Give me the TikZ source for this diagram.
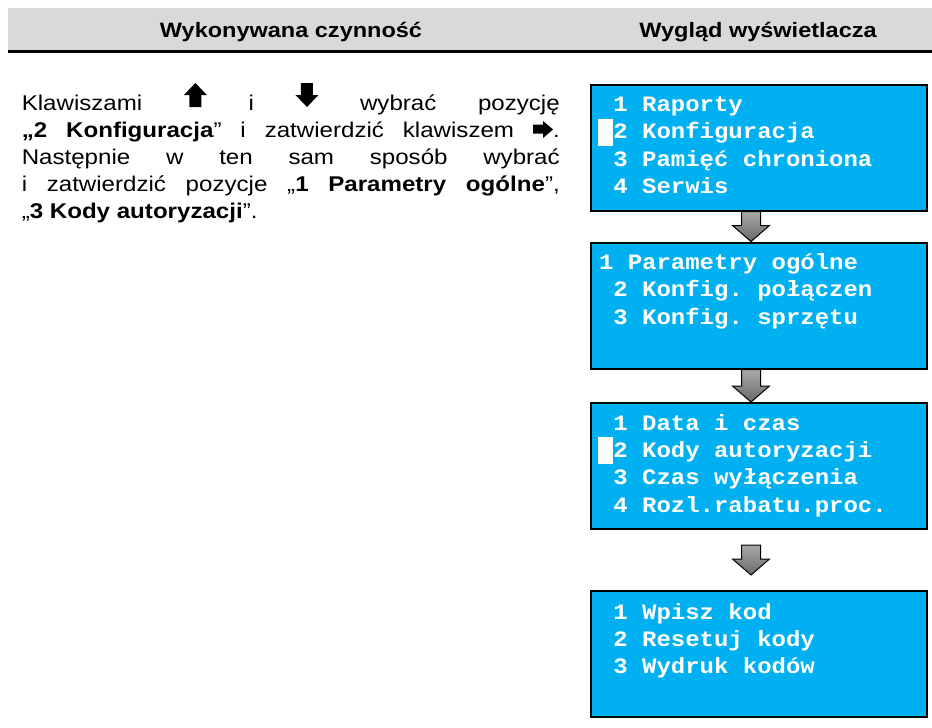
\documentclass[tikz,border=0pt]{standalone}
\usepackage{fontspec}
\setmainfont{Liberation Sans}[FakeStretch=1.13]
\newfontfamily\lcdfont{Liberation Mono}[FakeStretch=1.09]
\usetikzlibrary{calc}
\definecolor{lcdblue}{RGB}{0,176,240}
\definecolor{headgray}{RGB}{217,217,217}
\definecolor{arrtop}{RGB}{170,170,170}
\definecolor{arrbot}{RGB}{105,105,105}
\newcommand\keyup{\tikz[baseline=0pt,x=0.75pt,y=0.75pt]\fill (5.5,3) -- (17.5,3) -- (17.5,15) -- (23,15) -- (11.5,27) -- (0,15) -- (5.5,15) -- cycle;}
\newcommand\keydown{\tikz[baseline=0pt,x=0.75pt,y=0.75pt]\fill (5.5,27) -- (17.5,27) -- (17.5,15) -- (23,15) -- (11.5,3) -- (0,15) -- (5.5,15) -- cycle;}
\newcommand\keyright{\tikz[baseline=0pt,x=0.75pt,y=0.75pt]\fill (0,3.5) -- (10,3.5) -- (10,-1) -- (20,7.5) -- (10,16) -- (10,12.5) -- (0,12.5) -- cycle;}
\newcommand\lcdcursor{\makebox[0pt][l]{\hspace{-0.75pt}\rule[-5.25pt]{11.25pt}{20.25pt}}\hphantom{0}}
\newcommand\lcdsp{\hphantom{0}}
\newcommand\grayarrow[2]{\path[fatarrow] ($(#1)+(-17.5,0)$) -- ($(#1)+(1.5,0)$) -- ($(#2)+(1.5,-16)$) -- ($(#2)+(10.5,-16)$) -- ($(#2)+(-8,0)$) -- ($(#2)+(-26.5,-16)$) -- ($(#2)+(-17.5,-16)$) -- cycle;}
\tikzset{
  screen/.style={draw=black, line width=1.5pt, fill=lcdblue, minimum width=252.4pt, minimum height=94.5pt, inner sep=0pt},
  lcdtext/.style={anchor=base west, inner sep=0pt, text=white, font=\lcdfont\bfseries\fontsize{16.5pt}{20.5pt}\selectfont\frenchspacing},
  headtext/.style={anchor=base, inner sep=0pt, font=\bfseries\fontsize{15.6pt}{18pt}\selectfont},
  bodytext/.style={anchor=base west, inner sep=0pt, font=\fontsize{16pt}{20.25pt}\selectfont},
  fatarrow/.style={draw=black, line width=0.75pt, top color=arrtop, bottom color=arrbot},
}
\begin{document}
\begin{tikzpicture}[x=0.75pt,y=-0.75pt]
\useasboundingbox (0,0) rectangle (932,728);
% header band
\fill[headgray] (8,8) rectangle (932,50);
\draw[line width=2.25pt] (8,51.5) -- (932,51.5);
\node[headtext] (h1) at (291,37) {Wykonywana czynność};
\node[headtext] (h2) at (758,37) {Wygląd wyświetlacza};
% instruction paragraph
\node[bodytext] (para) at (21.5,110) {\parbox[t]{403.5pt}{\tolerance=10000\hbadness=10000\hyphenpenalty=10000
Klawiszami \keyup{} i \keydown{} wybrać pozycję\linebreak
{\bfseries „2 Konfiguracja}” i zatwierdzić klawiszem \keyright.\linebreak
Następnie w ten sam sposób wybrać\linebreak
i zatwierdzić pozycje „{\bfseries 1 Parametry ogólne}”,\linebreak
„{\bfseries 3 Kody autoryzacji}”.}};
% screens
\node[screen] (b1) at (759,147.5) {};
\node[screen] (b2) at (759,305.5) {};
\node[screen] (b3) at (759,466) {};
\node[screen] (b4) at (759,654) {};
\node[lcdtext] (t1) at ($(b1.north west)+(9,28)$) {\parbox[t]{300pt}{\lcdsp 1 Raporty\\\lcdcursor 2 Konfiguracja\\\lcdsp 3 Pamięć chroniona\\\lcdsp 4 Serwis}};
\node[lcdtext] (t2) at ($(b2.north west)+(9,28)$) {\parbox[t]{300pt}{1 Parametry ogólne\\\lcdsp 2 Konfig. połączen\\\lcdsp 3 Konfig. sprzętu}};
\node[lcdtext] (t3) at ($(b3.north west)+(9,28)$) {\parbox[t]{300pt}{\lcdsp 1 Data i czas\\\lcdcursor 2 Kody autoryzacji\\\lcdsp 3 Czas wyłączenia\\\lcdsp 4 Rozl.rabatu.proc.}};
\node[lcdtext] (t4) at ($(b4.north west)+(9,29)$) {\parbox[t]{300pt}{\lcdsp 1 Wpisz kod\\\lcdsp 2 Resetuj kody\\\lcdsp 3 Wydruk kodów}};
% arrows
\coordinate (a3s) at ($(b3.south)+(0,15)$);
\coordinate (a3e) at ($(b4.north)+(0,-15)$);
\grayarrow{b1.south}{b2.north}
\grayarrow{b2.south}{b3.north}
\grayarrow{a3s}{a3e}
\end{tikzpicture}
\end{document}
